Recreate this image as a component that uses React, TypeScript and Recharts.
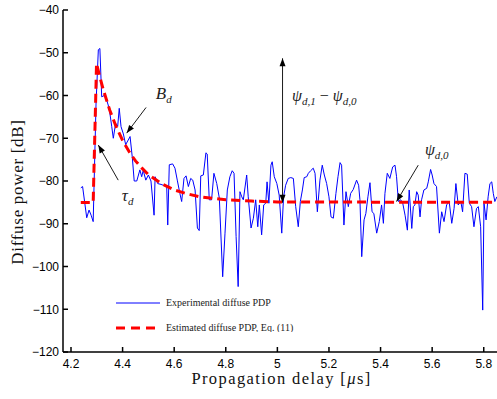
import React from "react";
import { LineChart, Line, XAxis, YAxis, ReferenceLine, ReferenceDot } from "recharts";

const delays = [
  4.238, 4.245, 4.261, 4.27, 4.278, 4.286, 4.297, 4.306, 4.312, 4.319, 4.329, 4.338, 4.348, 4.358,
  4.364, 4.373, 4.381, 4.387, 4.394, 4.403, 4.412, 4.422, 4.429, 4.438, 4.445, 4.455, 4.467, 4.474,
  4.48, 4.49, 4.5, 4.51, 4.522, 4.526, 4.536, 4.549, 4.558, 4.571, 4.575, 4.581, 4.594, 4.603,
  4.612, 4.622, 4.629, 4.638, 4.646, 4.655, 4.664, 4.672, 4.681, 4.69, 4.697, 4.703, 4.713, 4.723,
  4.728, 4.736, 4.745, 4.754, 4.765, 4.775, 4.788, 4.797, 4.806, 4.816, 4.825, 4.832, 4.84, 4.848,
  4.855, 4.862, 4.868, 4.881, 4.887, 4.898, 4.907, 4.916, 4.924, 4.93, 4.939, 4.947, 4.955, 4.96,
  4.967, 4.975, 4.98, 4.988, 4.998, 5.007, 5.017, 5.024, 5.032, 5.042, 5.052, 5.062, 5.071, 5.081,
  5.089, 5.097, 5.104, 5.114, 5.12, 5.129, 5.139, 5.146, 5.155, 5.165, 5.174, 5.182, 5.191, 5.2,
  5.208, 5.217, 5.227, 5.235, 5.243, 5.249, 5.258, 5.266, 5.275, 5.284, 5.294, 5.307, 5.315, 5.32,
  5.327, 5.336, 5.343, 5.351, 5.359, 5.367, 5.374, 5.385, 5.395, 5.404, 5.411, 5.417, 5.426, 5.436,
  5.447, 5.456, 5.462, 5.469, 5.478, 5.486, 5.495, 5.504, 5.511, 5.521, 5.527, 5.533, 5.54, 5.546,
  5.553, 5.559, 5.568, 5.579, 5.585, 5.594, 5.6, 5.607, 5.617, 5.628, 5.637, 5.646, 5.656, 5.666,
  5.676, 5.685, 5.692, 5.701, 5.711, 5.718, 5.727, 5.736, 5.744, 5.753, 5.762, 5.772, 5.779, 5.788,
  5.796, 5.801, 5.809, 5.817, 5.824, 5.831, 5.837, 5.843, 5.851,
];
const measured = [
  -81.6, -81.3, -88.6, -86.8, -88, -89.5, -62, -49.3, -49, -60.3, -60, -61, -63, -67.3,
  -70, -66.5, -67.2, -63, -67.3, -69, -71.5, -70.4, -69.6, -74.7, -80, -80, -77.4, -79,
  -77.5, -79.8, -78.6, -80, -88, -79, -80.6, -80.8, -81, -81.3, -90.3, -76.2, -76, -77,
  -79.8, -82.9, -84.8, -79.4, -78.8, -81.3, -79.4, -79.8, -82.1, -91, -91.6, -78.8, -78.6, -73.4,
  -73.7, -84.4, -84.4, -78.2, -80.6, -84, -102.4, -92.2, -82.1, -79, -77.6, -78.2, -93, -104.7,
  -82.5, -83.7, -84.4, -78.6, -83.7, -91, -88.7, -84.4, -90.7, -85.6, -92.6, -85.6, -85.2, -80.2,
  -85.2, -76.3, -75.5, -79, -80.6, -83.3, -92.2, -83.7, -81, -79.4, -79.2, -79.4, -86, -90.7,
  -84.8, -82.1, -79.2, -79, -78.2, -77.6, -77, -78.2, -87.2, -79.8, -76.3, -78.6, -80.6, -83.7,
  -88.4, -88.7, -82.9, -79, -75.7, -76.3, -90.3, -82.5, -86, -82.9, -82, -79.8, -81, -84.4,
  -97.7, -89.1, -87.6, -83.7, -80.4, -87.2, -87.6, -92.2, -89.5, -85.6, -89.9, -82.9, -78.2, -79.4,
  -76.7, -76.3, -79, -84.8, -84.4, -85.2, -88, -91.5, -82.1, -91.1, -86, -85.6, -82.5, -83.3,
  -88.4, -84.4, -82.1, -81.7, -80.2, -77.3, -78.6, -80.6, -81.3, -92.2, -87.2, -89.5, -85.6, -84.8,
  -89.9, -86.4, -80.6, -85.6, -84.8, -87.2, -78.2, -78.4, -85.2, -86, -90.7, -86.4, -86, -90.7,
  -110.2, -85.2, -89.1, -83.7, -80.6, -80.2, -82.9, -84.8, -83.7,
];

// fitted model curve
const modelDelays = [4.238, 4.286, 4.299, 4.31, 4.325, 4.35, 4.375, 4.4, 4.425, 4.45, 4.475, 4.5, 4.55, 4.6, 4.65, 4.7, 4.8, 4.9, 5.0, 5.851];
const modelPower = [-85, -85, -52.5, -55.2, -58.6, -63.4, -67.3, -70.5, -73.1, -75.3, -77, -78.5, -80.6, -82.1, -83, -83.7, -84.4, -84.7, -84.9, -85];

const xTicks = [4.2, 4.4, 4.6, 4.8, 5, 5.2, 5.4, 5.6, 5.8];
const yTicks = [-120, -110, -100, -90, -80, -70, -60, -50, -40];

const experimental = delays.map((t, i) => ({ t, v: measured[i] }));
const estimated = modelDelays.map((t, i) => ({ t, v: modelPower[i] }));

const SERIF = "'Liberation Serif', 'Times New Roman', serif";
const SANS = "'Liberation Sans', Arial, sans-serif";
const NOTE = "#222";

const arrowShape = (both: boolean) => (p: any) => {
  const { x1, y1, x2, y2 } = p;
  const head = (ax: number, ay: number, bx: number, by: number) => {
    const a = Math.atan2(by - ay, bx - ax);
    const L = 8, W = 3;
    const cx = bx - L * Math.cos(a), cy = by - L * Math.sin(a);
    return `${bx},${by} ${cx + W * Math.sin(a)},${cy - W * Math.cos(a)} ${cx - W * Math.sin(a)},${cy + W * Math.cos(a)}`;
  };
  return (
    <g>
      <line x1={x1} y1={y1} x2={x2} y2={y2} stroke="#000" strokeWidth={0.9} />
      <polygon points={head(x1, y1, x2, y2)} fill="#000" />
      {both && <polygon points={head(x2, y2, x1, y1)} fill="#000" />}
    </g>
  );
};

const sub = (s: string) => (
  <tspan fontSize={11} dy={4}>{s}</tspan>
);

const fmtY = (v: number) => (v < 0 ? "\u2212" + Math.abs(v) : String(v));

export default function App() {
  return (
    <div style={{ position: "absolute", left: 0, top: 0, width: 497, height: 399, overflow: "hidden", background: "#fff" }}>
      <LineChart width={500} height={399} margin={{ top: 10, right: 0, bottom: 0, left: 0 }}>
        <XAxis
          dataKey="t"
          type="number"
          domain={[4.169, 5.863]}
          allowDataOverflow
          ticks={xTicks}
          tickFormatter={(v: number) => String(v)}
          height={47}
          tickSize={-5}
          tickMargin={12}
          stroke="#000"
          strokeWidth={1.5}
          tick={{ fill: "#000", fontSize: 12, fontFamily: SANS }}
          label={({ viewBox }: any) => (
            <text
              x={viewBox.x + viewBox.width / 2}
              y={384}
              textAnchor="middle"
              fontFamily={SERIF}
              fontSize={16.5}
              letterSpacing={1.4}
              fill="#111"
            >
              Propagation delay [<tspan fontStyle="italic">μ</tspan>s]
            </text>
          )}
        />
        <XAxis
          xAxisId="top"
          orientation="top"
          dataKey="t"
          type="number"
          domain={[4.169, 5.863]}
          allowDataOverflow
          ticks={xTicks}
          tickFormatter={() => ""}
          height={0}
          tickSize={-5}
          stroke="#000"
        />
        <YAxis
          type="number"
          domain={[-120, -40]}
          ticks={yTicks}
          tickFormatter={fmtY}
          width={63}
          tickSize={-5}
          tickMargin={9}
          stroke="#000"
          strokeWidth={1.5}
          tick={{ fill: "#000", fontSize: 12, fontFamily: SANS }}
          label={() => (
            <text
              x={17}
              y={192}
              transform="rotate(-90 17 192)"
              textAnchor="middle"
              dominantBaseline="central"
              fontFamily={SERIF}
              fontSize={17}
              letterSpacing={0.7}
              fill="#111"
            >
              Diffuse power [dB]
            </text>
          )}
        />
        <Line data={experimental} dataKey="v" type="linear" stroke="#0000ff" strokeWidth={1} dot={false} isAnimationActive={false} />
        <Line data={estimated} dataKey="v" type="linear" stroke="#ff0000" strokeWidth={3} strokeDasharray="9 5" dot={false} isAnimationActive={false} />

        <ReferenceLine segment={[{ x: 4.491, y: -62.8 }, { x: 4.416, y: -68.8 }]} shape={arrowShape(false)} />
        <ReferenceLine segment={[{ x: 4.383, y: -79.8 }, { x: 4.306, y: -71.6 }]} shape={arrowShape(false)} />
        <ReferenceLine segment={[{ x: 5.02, y: -51.3 }, { x: 5.02, y: -85.1 }]} shape={arrowShape(true)} />
        <ReferenceLine segment={[{ x: 5.546, y: -76.3 }, { x: 5.462, y: -84.8 }]} shape={arrowShape(false)} />

        <ReferenceDot
          x={4.529}
          y={-60.8}
          r={0}
          shape={(p: any) => (
            <text x={p.cx} y={p.cy} fontFamily={SERIF} fontStyle="italic" fontSize={17} fill={NOTE}>
              B{sub("d")}
            </text>
          )}
        />
        <ReferenceDot
          x={4.397}
          y={-84.7}
          r={0}
          shape={(p: any) => (
            <text x={p.cx} y={p.cy} fontFamily={SERIF} fontStyle="italic" fontSize={17} fill={NOTE}>
              τ{sub("d")}
            </text>
          )}
        />
        <ReferenceDot
          x={5.057}
          y={-61.3}
          r={0}
          shape={(p: any) => (
            <text x={p.cx} y={p.cy} fontFamily={SERIF} fontStyle="italic" fontSize={16} fill={NOTE}>
              ψ{sub("d,1")}
              <tspan dy={-4} fontStyle="normal"> − </tspan>
              <tspan>ψ</tspan>
              {sub("d,0")}
            </text>
          )}
        />
        <ReferenceDot
          x={5.572}
          y={-73.9}
          r={0}
          shape={(p: any) => (
            <text x={p.cx} y={p.cy} fontFamily={SERIF} fontStyle="italic" fontSize={16} fill={NOTE}>
              ψ{sub("d,0")}
            </text>
          )}
        />
      </LineChart>

      {/* legend inside the plot, lower left */}
      <svg width={220} height={40} style={{ position: "absolute", left: 110, top: 292 }}>
        <line x1={6} y1={11} x2={50} y2={11} stroke="#0000ff" strokeWidth={1} />
        <line x1={6} y1={36} x2={47} y2={36} stroke="#ff0000" strokeWidth={3} strokeDasharray="9 6" />
        <text x={56} y={14} fontFamily={SERIF} fontSize={10} fill="#222">Experimental diffuse PDP</text>
        <text x={56} y={39} fontFamily={SERIF} fontSize={10} fill="#222">Estimated diffuse PDP, Eq. (11)</text>
      </svg>
    </div>
  );
}
